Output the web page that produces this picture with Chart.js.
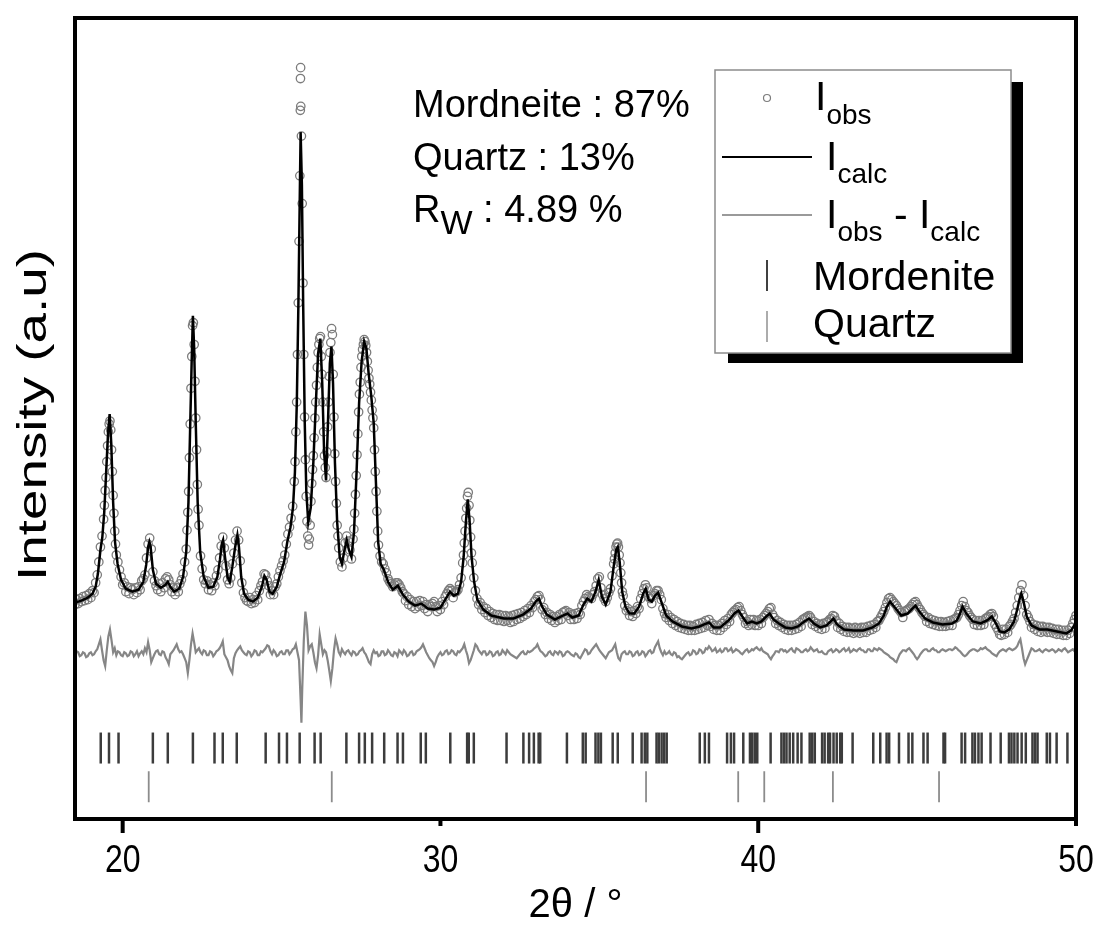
<!DOCTYPE html>
<html>
<head>
<meta charset="utf-8">
<script src="https://cdn.jsdelivr.net/npm/chart.js@4.4.1/dist/chart.umd.min.js"></script>
<style>
  body { margin: 0; background: #fff; }
  #wrap { width: 1099px; height: 940px; }
</style>
</head>
<body>
<div id="wrap"><canvas id="xrd" width="1099" height="940"></canvas></div>
<script>
// 2theta range and tick labels
const xMin = 18.5;
const xMax = 50;
const xTickValues = [20, 30, 40, 50];
const xLongTicks = [20, 40];

// calculated pattern (2theta, intensity)
const calcPoints = [
  [18.50,218],[18.70,220],[18.90,223],[19.05,227],[19.15,234],[19.22,247],[19.30,271],[19.36,284],[19.42,309],[19.48,349],
  [19.54,389],[19.59,408],[19.64,379],[19.70,319],[19.76,279],[19.84,257],[19.95,241],[20.10,232],[20.30,229],[20.50,231],
  [20.65,239],[20.74,256],[20.80,274],[20.84,279],[20.88,274],[20.95,251],[21.05,237],[21.20,233],[21.35,236],[21.42,239],
  [21.50,234],[21.62,229],[21.78,232],[21.90,244],[22.00,269],[22.07,319],[22.12,389],[22.17,459],[22.21,507],[22.25,474],
  [22.30,399],[22.36,319],[22.44,269],[22.55,244],[22.70,233],[22.85,234],[22.98,244],[23.06,261],[23.12,277],[23.16,281],
  [23.22,264],[23.30,244],[23.37,239],[23.45,254],[23.54,274],[23.61,286],[23.66,274],[23.73,244],[23.82,227],[23.95,221],
  [24.10,219],[24.25,223],[24.38,234],[24.46,245],[24.53,241],[24.62,229],[24.72,227],[24.85,234],[24.95,246],[25.08,259],
  [25.18,279],[25.28,294],[25.36,314],[25.42,349],[25.48,419],[25.53,519],[25.57,619],[25.60,692],[25.64,639],[25.68,519],
  [25.73,399],[25.78,329],[25.84,299],[25.92,314],[26.00,359],[26.08,419],[26.15,469],[26.22,484],[26.28,439],[26.34,369],
  [26.40,341],[26.46,399],[26.52,459],[26.57,476],[26.62,439],[26.68,359],[26.75,299],[26.83,264],[26.90,257],[26.98,271],
  [27.05,281],[27.12,271],[27.20,264],[27.28,289],[27.36,349],[27.44,419],[27.52,461],[27.60,481],[27.67,474],[27.74,449],
  [27.82,427],[27.90,399],[27.97,339],[28.04,279],[28.12,257],[28.22,251],[28.35,239],[28.50,231],[28.66,235],[28.80,227],
  [29.00,219],[29.20,215],[29.40,217],[29.60,212],[29.80,211],[30.00,213],[30.15,221],[30.30,229],[30.42,225],[30.55,227],
  [30.65,239],[30.73,264],[30.80,299],[30.86,322],[30.92,299],[30.98,264],[31.06,239],[31.16,221],[31.35,211],[31.60,205],
  [32.00,202],[32.30,202],[32.60,206],[32.85,212],[33.00,219],[33.10,222],[33.20,214],[33.35,206],[33.60,201],[33.85,205],
  [34.00,207],[34.15,203],[34.35,205],[34.50,216],[34.62,222],[34.75,219],[34.88,229],[34.98,241],[35.08,224],[35.20,216],
  [35.35,229],[35.45,254],[35.53,271],[35.58,274],[35.64,259],[35.72,229],[35.82,214],[35.95,207],[36.10,207],[36.25,214],
  [36.38,227],[36.46,232],[36.55,221],[36.65,219],[36.75,225],[36.85,228],[36.95,219],[37.10,205],[37.30,199],[37.60,194],
  [37.90,192],[38.15,194],[38.30,196],[38.45,198],[38.60,193],[38.80,193],[38.95,197],[39.10,201],[39.25,207],[39.38,210],
  [39.50,204],[39.65,197],[39.80,199],[39.95,197],[40.10,199],[40.25,204],[40.36,207],[40.48,201],[40.65,197],[40.85,193],
  [41.05,192],[41.25,194],[41.45,199],[41.60,202],[41.75,197],[41.95,193],[42.15,195],[42.28,199],[42.37,202],[42.48,196],
  [42.70,191],[43.00,190],[43.30,190],[43.60,193],[43.80,197],[43.95,205],[44.05,214],[44.15,219],[44.30,213],[44.50,205],
  [44.70,207],[44.85,212],[44.95,215],[45.07,209],[45.25,202],[45.50,198],[45.80,196],[46.10,197],[46.25,200],[46.35,207],
  [46.43,214],[46.55,207],[46.75,199],[47.00,197],[47.20,200],[47.35,204],[47.48,197],[47.60,189],[47.75,188],[47.90,191],
  [48.05,199],[48.15,211],[48.22,221],[48.28,227],[48.35,219],[48.45,204],[48.60,195],[48.85,191],[49.10,191],[49.40,189],
  [49.70,187],[49.85,190],[50.00,198]
];

// observed pattern (2theta, intensity)
const obsPoints = [
  [18.50,216],[18.55,221],[18.60,217],[18.65,222],[18.70,219],[18.75,224],[18.80,220],[18.85,225],[18.90,221],[18.95,227],
  [19.00,223],[19.05,230],[19.10,228],[19.15,238],[19.20,246],[19.25,259],[19.30,274],[19.35,285],[19.40,302],
  [19.425,316],[19.45,331],[19.475,344],[19.50,360],[19.525,376],[19.55,390],[19.575,398],[19.60,401],[19.625,392],[19.65,372],
  [19.675,350],[19.70,326],[19.725,308],[19.75,290],[19.775,277],[19.80,266],
  [19.85,259],[19.90,251],[19.95,244],[20.00,236],[20.05,238],[20.10,229],[20.15,234],[20.20,227],[20.25,233],[20.30,231],
  [20.35,226],[20.40,233],[20.45,228],[20.50,234],[20.55,231],[20.60,240],[20.65,242],[20.70,246],[20.75,263],[20.80,277],
  [20.85,283],[20.90,272],[20.95,249],[21.00,240],[21.05,235],[21.10,231],[21.15,237],[21.20,229],[21.25,238],[21.30,233],
  [21.35,242],[21.40,244],[21.45,241],[21.50,236],[21.55,229],[21.60,233],[21.65,226],[21.70,233],[21.75,229],[21.80,237],
  [21.85,241],[21.90,247],[21.95,259],[22.00,272],
  [22.025,291],[22.05,309],[22.075,330],[22.10,364],[22.125,398],[22.15,434],[22.175,466],[22.20,497],[22.225,500],[22.25,478],
  [22.275,441],[22.30,404],[22.325,372],[22.35,337],[22.375,312],[22.40,296],
  [22.45,265],[22.50,252],[22.55,241],[22.60,237],[22.65,240],[22.70,231],[22.75,236],[22.80,230],[22.85,238],[22.90,235],
  [22.95,245],[23.00,251],[23.05,263],[23.10,275],[23.15,284],[23.20,273],[23.25,255],[23.30,241],[23.35,237],[23.40,243],
  [23.45,257],[23.50,268],[23.55,281],[23.60,290],[23.65,281],[23.70,260],[23.75,238],[23.80,228],[23.85,223],[23.90,220],
  [23.95,219],[24.00,223],[24.05,217],[24.10,221],[24.15,218],[24.20,225],[24.25,221],[24.30,230],[24.35,235],[24.40,239],
  [24.45,247],[24.50,246],[24.55,240],[24.60,235],[24.65,226],[24.70,230],[24.75,226],[24.80,234],[24.85,237],[24.90,244],
  [24.95,250],[25.00,255],[25.05,260],[25.10,266],[25.15,277],[25.20,287],[25.25,294],[25.30,303],[25.35,315],[25.40,340],
  [25.425,360],[25.45,390],[25.475,420],[25.50,468],[25.525,520],[25.55,582],[25.575,648],[25.59,714],[25.595,746],[25.60,757],
  [25.605,718],[25.625,688],[25.65,620],[25.675,540],[25.70,468],[25.725,405],[25.75,362],[25.775,325],[25.80,300],[25.825,285],
  [25.85,276],[25.875,282],[25.90,296],[25.925,320],[25.95,338],[25.975,352],[26.00,366],[26.025,384],[26.05,404],[26.075,420],
  [26.10,437],[26.125,455],[26.15,470],[26.175,478],[26.20,484],[26.225,486],[26.25,466],[26.275,448],[26.30,420],[26.325,390],
  [26.35,366],[26.375,354],[26.40,344],[26.425,370],[26.45,395],[26.475,420],[26.50,446],[26.525,470],[26.55,480],[26.575,494],
  [26.60,488],[26.625,448],[26.65,405],[26.675,368],[26.70,340],[26.725,318],[26.75,296],[26.775,285],[26.80,273],
  [26.85,259],[26.90,254],[26.95,263],[27.00,278],[27.05,285],[27.10,280],[27.15,271],[27.20,262],[27.25,282],
  [27.275,292],[27.30,308],[27.325,327],[27.35,346],[27.375,367],[27.40,388],[27.425,410],[27.45,428],[27.475,440],[27.50,455],
  [27.525,466],[27.55,473],[27.575,478],[27.60,483],[27.625,481],[27.65,477],[27.675,470],[27.70,461],[27.725,452],[27.75,444],
  [27.775,438],[27.80,430],[27.825,422],[27.85,412],[27.875,404],[27.90,394],[27.925,372],[27.95,350],[27.975,330],[28.00,310],
  [28.025,290],[28.05,276],
  [28.10,265],[28.15,259],[28.20,257],[28.25,252],[28.30,248],[28.35,242],[28.40,239],[28.45,237],[28.50,234],[28.55,236],
  [28.60,238],[28.65,238],[28.70,236],[28.75,233],[28.80,229],[28.85,227],[28.90,220],[28.95,224],[29.00,216],[29.05,221],
  [29.10,214],[29.15,219],[29.20,212],[29.25,219],[29.30,214],[29.35,220],[29.40,215],[29.45,219],[29.50,212],[29.55,216],
  [29.60,209],[29.65,216],[29.70,214],[29.75,217],[29.80,219],[29.85,214],[29.90,209],[29.95,215],[30.00,211],[30.05,219],
  [30.10,216],[30.15,224],[30.20,227],[30.25,230],[30.30,232],[30.35,230],[30.40,223],[30.45,228],[30.50,229],[30.55,231],
  [30.60,236],[30.65,243],[30.70,258],
  [30.725,266],[30.75,278],[30.775,290],[30.80,303],[30.825,313],[30.85,325],[30.875,329],[30.90,316],[30.925,301],[30.95,284],
  [30.975,268],[31.00,258],
  [31.05,243],[31.10,230],[31.15,222],[31.20,216],[31.25,218],[31.30,211],[31.35,214],[31.40,208],[31.45,212],[31.50,205],
  [31.55,209],[31.60,203],[31.65,207],[31.70,201],[31.75,206],[31.80,200],[31.85,206],[31.90,200],[31.95,205],[32.00,199],
  [32.05,205],[32.10,200],[32.15,204],[32.20,198],[32.25,205],[32.30,199],[32.35,206],[32.40,201],[32.45,207],[32.50,202],
  [32.55,208],[32.60,204],[32.65,210],[32.70,206],[32.75,212],[32.80,208],[32.85,215],[32.90,213],[32.95,219],[33.00,221],
  [33.05,224],[33.10,225],[33.15,221],[33.20,211],[33.25,213],[33.30,206],[33.35,208],[33.40,202],[33.45,206],[33.50,200],
  [33.55,204],[33.60,198],[33.65,204],[33.70,200],[33.75,206],[33.80,201],[33.85,208],[33.90,209],[33.95,210],[34.00,205],
  [34.05,208],[34.10,201],[34.15,206],[34.20,201],[34.25,207],[34.30,202],[34.35,208],[34.40,206],[34.45,215],[34.50,219],
  [34.55,222],[34.60,226],[34.65,224],[34.70,223],[34.75,222],[34.80,226],[34.85,229],[34.90,235],[34.95,242],[35.00,244],
  [35.05,233],[35.10,226],[35.15,222],[35.20,219],[35.25,223],[35.30,228],[35.35,232],[35.40,245],[35.45,257],
  [35.475,262],[35.50,268],[35.525,274],[35.55,277],[35.575,278],[35.60,274],[35.625,266],[35.65,258],[35.675,248],[35.70,238],
  [35.725,229],
  [35.75,225],[35.80,215],[35.85,210],[35.90,212],[35.95,205],[36.00,209],[36.05,204],[36.10,210],[36.15,207],[36.20,214],
  [36.25,212],[36.30,222],[36.35,227],[36.40,232],[36.45,236],[36.50,233],[36.55,224],[36.60,222],[36.65,217],[36.70,225],
  [36.75,227],[36.80,230],[36.85,230],[36.90,226],[36.95,221],[37.00,212],[37.05,207],[37.10,203],[37.15,206],[37.20,200],
  [37.25,203],[37.30,197],[37.35,201],[37.40,195],[37.45,199],[37.50,193],[37.55,197],[37.60,192],[37.65,196],[37.70,191],
  [37.75,195],[37.80,190],[37.85,195],[37.90,190],[37.95,194],[38.00,190],[38.05,196],[38.10,191],[38.15,197],[38.20,192],
  [38.25,198],[38.30,193],[38.35,200],[38.40,195],[38.45,201],[38.50,194],[38.55,197],[38.60,191],[38.65,195],[38.70,190],
  [38.75,195],[38.80,190],[38.85,197],[38.90,193],[38.95,200],[39.00,196],[39.05,202],[39.10,199],[39.15,206],[39.20,208],
  [39.25,210],[39.30,211],[39.35,213],[39.40,214],[39.45,210],[39.50,206],[39.55,203],[39.60,197],[39.65,199],[39.70,195],
  [39.75,201],[39.80,196],[39.85,201],[39.90,195],[39.95,200],[40.00,195],[40.05,201],[40.10,197],[40.15,203],[40.20,205],
  [40.25,207],[40.30,209],[40.35,212],[40.40,213],[40.45,206],[40.50,203],[40.55,197],[40.60,200],[40.65,195],[40.70,198],
  [40.75,193],[40.80,196],[40.85,191],[40.90,195],[40.95,190],[41.00,195],[41.05,190],[41.10,195],[41.15,191],[41.20,196],
  [41.25,192],[41.30,198],[41.35,194],[41.40,201],[41.45,202],[41.50,203],[41.55,204],[41.60,205],[41.65,203],[41.70,196],
  [41.75,199],[41.80,194],[41.85,197],[41.90,192],[41.95,196],[42.00,191],[42.05,197],[42.10,192],[42.15,198],[42.20,199],
  [42.25,201],[42.30,202],[42.35,205],[42.40,204],[42.45,200],[42.50,193],[42.55,197],[42.60,191],[42.65,194],[42.70,189],
  [42.75,193],[42.80,188],[42.85,193],[42.90,188],[42.95,192],[43.00,187],[43.05,193],[43.10,188],[43.15,192],[43.20,187],
  [43.25,193],[43.30,188],[43.35,193],[43.40,188],[43.45,194],[43.50,190],[43.55,195],[43.60,191],[43.65,196],[43.70,193],
  [43.75,199],[43.80,200],[43.85,203],[43.90,206],[43.95,209],[44.00,213],[44.05,218],[44.10,222],[44.15,223],[44.20,221],
  [44.25,219],[44.30,217],[44.35,215],[44.40,212],[44.45,210],[44.50,208],[44.55,203],[44.60,209],[44.65,210],[44.70,211],
  [44.75,212],[44.80,214],[44.85,216],[44.90,218],[44.95,219],[45.00,216],[45.05,213],[45.10,211],[45.15,208],[45.20,206],
  [45.25,204],[45.30,199],[45.35,203],[45.40,197],[45.45,201],[45.50,196],[45.55,200],[45.60,195],[45.65,199],[45.70,194],
  [45.75,199],[45.80,194],[45.85,198],[45.90,194],[45.95,199],[46.00,195],[46.05,200],[46.10,195],[46.15,201],[46.20,202],
  [46.25,203],[46.30,206],[46.35,210],[46.40,215],[46.45,219],[46.50,214],[46.55,210],[46.60,208],[46.65,205],[46.70,203],
  [46.75,201],[46.80,196],[46.85,200],[46.90,195],[46.95,200],[47.00,195],[47.05,200],[47.10,196],[47.15,202],[47.20,203],
  [47.25,204],[47.30,206],[47.35,207],[47.40,204],[47.45,196],[47.50,193],[47.55,190],[47.60,186],[47.65,185],[47.70,191],
  [47.75,186],[47.80,191],[47.85,188],[47.90,194],[47.95,196],[48.00,199],[48.05,202],[48.10,208],[48.15,215],[48.20,223],
  [48.25,230],[48.30,236],[48.35,225],[48.40,215],[48.45,206],[48.50,203],[48.55,199],[48.60,193],[48.65,196],[48.70,191],
  [48.75,195],[48.80,189],[48.85,194],[48.90,188],[48.95,194],[49.00,189],[49.05,193],[49.10,188],[49.15,193],[49.20,188],
  [49.25,192],[49.30,187],[49.35,191],[49.40,186],[49.45,191],[49.50,186],[49.55,190],[49.60,185],[49.65,190],[49.70,185],
  [49.75,190],[49.80,187],[49.85,193],[49.90,197],[49.95,201],[50.00,205]
];

// difference curve Iobs - Icalc (offset below the pattern)
const diffPoints = [
  [18.5,166],[18.55,169],[18.6,168],[18.65,164],[18.7,165],[18.75,168],[18.8,167],[18.85,163],[18.9,164],[18.95,167],
  [19.0,168],[19.05,165],[19.1,166],[19.15,169],[19.2,171],[19.25,176],[19.3,181],[19.35,170],[19.4,160],[19.45,154],
  [19.5,170],[19.55,184],[19.6,191],[19.65,180],[19.7,168],[19.75,172],[19.8,165],[19.85,169],[19.9,168],[19.95,165],
  [20.0,164],[20.05,168],[20.1,167],[20.15,164],[20.2,165],[20.25,169],[20.3,168],[20.35,164],[20.4,166],[20.45,169],
  [20.5,164],[20.55,167],[20.6,169],[20.65,166],[20.7,172],[20.75,168],[20.8,178],[20.85,170],[20.9,158],[20.95,162],
  [21.0,166],[21.05,169],[21.1,170],[21.15,166],[21.2,165],[21.25,169],[21.3,168],[21.35,163],[21.4,160],[21.45,156],
  [21.5,166],[21.55,168],[21.6,170],[21.65,173],[21.7,176],[21.75,171],[21.8,168],[21.85,169],[21.9,166],[21.95,162],
  [22.0,158],[22.05,147],[22.1,160],[22.15,176],[22.2,187],[22.25,178],[22.3,168],[22.35,170],[22.4,172],[22.45,168],
  [22.5,166],[22.55,170],[22.6,169],[22.65,165],[22.7,165],[22.75,169],[22.8,168],[22.85,164],[22.9,166],[22.95,169],
  [23.0,170],[23.05,172],[23.1,175],[23.15,179],[23.2,166],[23.25,163],[23.3,160],[23.35,154],[23.4,150],[23.45,147],
  [23.5,162],[23.55,167],[23.6,170],[23.65,172],[23.7,174],[23.75,170],[23.8,168],[23.85,166],[23.9,165],[23.95,169],
  [24.0,168],[24.05,164],[24.1,166],[24.15,170],[24.2,169],[24.25,165],[24.3,165],[24.35,169],[24.4,168],[24.45,170],
  [24.5,172],[24.55,175],[24.6,174],[24.65,169],[24.7,166],[24.75,170],[24.8,168],[24.85,164],[24.9,165],[24.95,168],
  [25.0,169],[25.05,166],[25.1,166],[25.15,170],[25.2,170],[25.25,166],[25.3,168],[25.35,171],[25.4,172],[25.45,176],
  [25.5,168],[25.55,160],[25.6,120],[25.625,97],[25.65,130],[25.7,180],[25.75,209],[25.8,195],[25.85,170],[25.9,174],
  [25.95,176],[26.0,168],[26.05,158],[26.1,152],[26.15,165],[26.2,186],[26.25,176],[26.3,166],[26.35,170],[26.4,168],
  [26.45,160],[26.5,150],[26.55,139],[26.6,152],[26.65,170],[26.7,182],[26.75,176],[26.8,168],[26.85,165],[26.9,171],
  [26.95,168],[27.0,166],[27.05,169],[27.1,170],[27.15,167],[27.2,165],[27.25,169],[27.3,168],[27.35,165],[27.4,166],
  [27.45,169],[27.5,170],[27.55,172],[27.6,168],[27.65,166],[27.7,162],[27.75,158],[27.8,156],[27.85,166],[27.9,170],
  [27.95,167],[28.0,168],[28.05,164],[28.1,165],[28.15,169],[28.2,169],[28.25,165],[28.3,166],[28.35,170],[28.4,168],
  [28.45,165],[28.5,164],[28.55,168],[28.6,167],[28.65,164],[28.7,170],[28.75,168],[28.8,166],[28.85,170],[28.9,168],
  [28.95,164],[29.0,165],[29.05,168],[29.1,169],[29.15,165],[29.2,166],[29.25,169],[29.3,170],[29.35,171],[29.4,173],
  [29.45,176],[29.5,172],[29.55,168],[29.6,165],[29.65,162],[29.7,160],[29.75,158],[29.8,154],[29.85,158],[29.9,163],
  [29.95,166],[30.0,168],[30.05,165],[30.1,166],[30.15,169],[30.2,170],[30.25,166],[30.3,167],[30.35,170],[30.4,169],
  [30.45,166],[30.5,165],[30.55,169],[30.6,168],[30.65,170],[30.7,172],[30.75,176],[30.8,170],[30.85,165],[30.9,157],
  [30.95,160],[31.0,165],[31.05,170],[31.1,176],[31.15,174],[31.2,170],[31.25,168],[31.3,166],[31.35,169],[31.4,169],
  [31.45,165],[31.5,166],[31.55,169],[31.6,168],[31.65,164],[31.7,165],[31.75,168],[31.8,169],[31.85,165],[31.9,166],
  [31.95,170],[32.0,168],[32.05,166],[32.1,170],[32.15,168],[32.2,166],[32.25,165],[32.3,164],[32.35,163],[32.4,162],
  [32.45,164],[32.5,166],[32.55,168],[32.6,169],[32.65,166],[32.7,166],[32.75,169],[32.8,168],[32.85,169],[32.9,170],
  [32.95,172],[33.0,173],[33.05,176],[33.1,172],[33.15,169],[33.2,168],[33.25,166],[33.3,164],[33.35,165],[33.4,168],
  [33.45,169],[33.5,166],[33.55,165],[33.6,169],[33.65,168],[33.7,166],[33.75,169],[33.8,168],[33.85,164],[33.9,165],
  [33.95,168],[34.0,169],[34.05,168],[34.1,166],[34.15,165],[34.2,164],[34.25,167],[34.3,166],[34.35,163],[34.4,162],
  [34.45,165],[34.5,168],[34.55,171],[34.6,170],[34.65,166],[34.7,167],[34.75,170],[34.8,172],[34.85,174],[34.9,176],
  [34.95,173],[35.0,170],[35.05,168],[35.1,166],[35.15,164],[35.2,162],[35.25,165],[35.3,168],[35.35,169],[35.4,170],
  [35.45,173],[35.5,176],[35.55,168],[35.6,162],[35.65,160],[35.7,166],[35.75,168],[35.8,169],[35.85,166],[35.9,166],
  [35.95,169],[36.0,168],[36.05,164],[36.1,165],[36.15,168],[36.2,169],[36.25,165],[36.3,166],[36.35,169],[36.4,168],
  [36.45,164],[36.5,166],[36.55,169],[36.6,170],[36.65,167],[36.7,168],[36.75,173],[36.8,176],[36.85,179],[36.9,172],
  [36.95,168],[37.0,165],[37.05,169],[37.1,166],[37.15,167],[37.2,169],[37.25,166],[37.3,165],[37.35,168],[37.4,167],
  [37.45,163],[37.5,164],[37.55,162],[37.6,161],[37.65,163],[37.7,165],[37.75,167],[37.8,168],[37.85,165],[37.9,166],
  [37.95,170],[38.0,169],[38.05,166],[38.1,167],[38.15,171],[38.2,170],[38.25,167],[38.3,168],[38.35,172],[38.4,171],
  [38.45,174],[38.5,172],[38.55,169],[38.6,170],[38.65,172],[38.7,168],[38.75,169],[38.8,171],[38.85,168],[38.9,169],
  [38.95,172],[39.0,172],[39.05,169],[39.1,170],[39.15,172],[39.2,168],[39.25,169],[39.3,171],[39.35,170],[39.4,169],
  [39.45,167],[39.5,166],[39.55,168],[39.6,170],[39.65,171],[39.7,168],[39.75,169],[39.8,171],[39.85,170],[39.9,172],
  [39.95,173],[40.0,171],[40.05,170],[40.1,172],[40.15,169],[40.2,168],[40.25,167],[40.3,166],[40.35,163],[40.4,161],
  [40.45,164],[40.5,166],[40.55,169],[40.6,169],[40.65,168],[40.7,171],[40.75,171],[40.8,169],[40.85,170],[40.9,168],
  [40.95,169],[41.0,171],[41.05,172],[41.1,169],[41.15,168],[41.2,172],[41.25,171],[41.3,170],[41.35,168],[41.4,168],
  [41.45,170],[41.5,171],[41.55,169],[41.6,170],[41.65,173],[41.7,171],[41.75,169],[41.8,170],[41.85,171],[41.9,168],
  [41.95,168],[42.0,169],[42.05,167],[42.1,166],[42.15,166],[42.2,169],[42.25,170],[42.3,171],[42.35,168],[42.4,169],
  [42.45,171],[42.5,170],[42.55,168],[42.6,169],[42.65,171],[42.7,172],[42.75,169],[42.8,170],[42.85,172],[42.9,168],
  [42.95,169],[43.0,171],[43.05,170],[43.1,169],[43.15,171],[43.2,172],[43.25,170],[43.3,170],[43.35,168],[43.4,168],
  [43.45,171],[43.5,171],[43.55,169],[43.6,169],[43.65,172],[43.7,171],[43.75,170],[43.8,172],[43.85,171],[43.9,170],
  [43.95,168],[44.0,167],[44.05,166],[44.1,165],[44.15,163],[44.2,162],[44.25,161],[44.3,159],[44.35,158],[44.4,162],
  [44.45,166],[44.5,168],[44.55,170],[44.6,170],[44.65,169],[44.7,171],[44.75,172],[44.8,170],[44.85,168],[44.9,166],
  [44.95,163],[45.0,161],[45.05,163],[45.1,166],[45.15,168],[45.2,170],[45.25,171],[45.3,171],[45.35,169],[45.4,169],
  [45.45,171],[45.5,172],[45.55,170],[45.6,170],[45.65,168],[45.7,168],[45.75,170],[45.8,171],[45.85,170],[45.9,169],
  [45.95,170],[46.0,171],[46.05,171],[46.1,170],[46.15,171],[46.2,173],[46.25,172],[46.3,170],[46.35,169],[46.4,167],
  [46.45,165],[46.5,164],[46.55,165],[46.6,167],[46.65,169],[46.7,170],[46.75,171],[46.8,171],[46.85,170],[46.9,169],
  [46.95,170],[47.0,172],[47.05,171],[47.1,172],[47.15,173],[47.2,171],[47.25,170],[47.3,169],[47.35,167],[47.4,166],
  [47.45,165],[47.5,164],[47.55,167],[47.6,169],[47.65,170],[47.7,171],[47.75,170],[47.8,169],[47.85,171],[47.9,172],
  [47.95,171],[48.0,170],[48.05,171],[48.1,172],[48.15,174],[48.2,178],[48.25,181],[48.3,172],[48.35,162],[48.4,156],
  [48.45,160],[48.5,164],[48.55,168],[48.6,172],[48.65,171],[48.7,169],[48.75,169],[48.8,170],[48.85,171],[48.9,169],
  [48.95,168],[49.0,170],[49.05,171],[49.1,170],[49.15,169],[49.2,170],[49.25,171],[49.3,170],[49.35,168],[49.4,169],
  [49.45,171],[49.5,170],[49.55,169],[49.6,171],[49.65,172],[49.7,170],[49.75,168],[49.8,169],[49.85,170],[49.9,171],
  [49.95,169],[50.0,169]
];

// Bragg reflection positions
const mordeniteTicks = [
  19.31,19.57,19.87,20.95,21.42,22.21,22.89,23.15,23.59,24.50,24.92,25.17,25.57,26.04,26.23,27.04,27.44,27.62,27.85,28.23,
  28.65,28.82,29.38,29.54,30.31,30.84,30.89,31.05,32.08,32.61,32.79,32.94,33.09,33.14,33.98,34.48,34.57,34.88,34.97,35.05,
  35.42,35.58,36.05,36.33,36.43,36.51,36.80,36.87,36.96,37.04,37.12,38.16,38.32,38.45,39.02,39.14,39.24,39.53,39.74,39.81,
  39.89,39.97,40.39,40.73,40.81,40.89,40.99,41.10,41.24,41.36,41.62,41.70,41.78,42.01,42.09,42.20,42.26,42.37,42.47,42.58,
  42.63,42.97,43.62,43.84,44.04,44.12,44.43,44.73,44.85,45.20,45.33,45.83,45.88,46.40,46.51,46.74,46.82,46.93,47.03,47.31,
  47.63,47.89,47.97,48.06,48.16,48.29,48.42,48.63,48.71,48.79,49.08,49.18,49.39,49.73
];
const quartzTicks = [20.82, 26.58, 36.47, 39.37, 40.19, 42.35, 45.69];
const mordeniteLevel = 71.5;
const quartzLevel = 32.5;

const SANS = "'Liberation Sans', Arial, sans-serif";
const OBS_GREY = '#7c7c7c';

const toXY = arr => arr.map(p => ({x: p[0], y: p[1]}));

// frame, axis ticks and labels, titles, annotation and legend box
const decorations = {
  id: 'decorations',
  afterDraw(chart) {
    const {ctx, chartArea: a} = chart;
    const x = chart.scales.x;
    ctx.save();
    ctx.strokeStyle = '#000';
    ctx.lineWidth = 4;
    ctx.strokeRect(a.left, a.top, a.right - a.left, a.bottom - a.top);

    ctx.fillStyle = '#000';
    ctx.textAlign = 'center';
    ctx.textBaseline = 'middle';
    xTickValues.forEach(v => {
      const px = x.getPixelForValue(v);
      const len = xLongTicks.includes(v) ? 14 : 7;
      ctx.beginPath();
      ctx.moveTo(px, a.bottom);
      ctx.lineTo(px, a.bottom + len);
      ctx.stroke();
      ctx.save();
      ctx.translate(px, 861);
      ctx.scale(0.82, 1);
      ctx.font = '39px ' + SANS;
      ctx.fillText(String(v), 0, 0);
      ctx.restore();
    });

    // x axis title
    ctx.font = '40px ' + SANS;
    ctx.fillText('2θ / °', (a.left + a.right) / 2, 906);

    // y axis title
    ctx.save();
    ctx.translate(35, 415);
    ctx.rotate(-Math.PI / 2);
    ctx.scale(1.37, 1);
    ctx.font = '40px ' + SANS;
    ctx.fillText('Intensity (a.u)', 0, 0);
    ctx.restore();

    // refinement results
    ctx.textAlign = 'left';
    ctx.textBaseline = 'alphabetic';
    ctx.font = '38px ' + SANS;
    ctx.fillText('Mordneite : 87%', 413, 117);
    ctx.fillText('Quartz : 13%', 413, 170);
    ctx.fillText('R', 413, 222);
    let cx = 413 + ctx.measureText('R').width;
    ctx.font = '34px ' + SANS;
    ctx.fillText('W', cx, 234);
    cx += ctx.measureText('W').width;
    ctx.font = '38px ' + SANS;
    ctx.fillText(' : 4.89 %', cx, 222);

    // legend box with shadow
    ctx.fillStyle = '#000';
    ctx.fillRect(728, 82, 295, 281);
    ctx.fillStyle = '#fff';
    ctx.fillRect(715, 70, 296, 283);
    ctx.strokeStyle = '#8c8c8c';
    ctx.lineWidth = 1.5;
    ctx.strokeRect(715, 70, 296, 283);

    const sub = (parts, x0, yMain, ySub) => {
      let px = x0;
      parts.forEach(([t, isSub]) => {
        ctx.font = (isSub ? '28px ' : '41px ') + SANS;
        ctx.fillStyle = '#000';
        ctx.fillText(t, px, isSub ? ySub : yMain);
        px += ctx.measureText(t).width;
      });
    };

    ctx.strokeStyle = OBS_GREY;
    ctx.lineWidth = 1.2;
    ctx.beginPath();
    ctx.arc(767, 98, 3.5, 0, Math.PI * 2);
    ctx.stroke();
    sub([['I', false], ['obs', true]], 815, 110, 124);

    ctx.strokeStyle = '#000';
    ctx.lineWidth = 2;
    ctx.beginPath();
    ctx.moveTo(722, 157);
    ctx.lineTo(812, 157);
    ctx.stroke();
    sub([['I', false], ['calc', true]], 826, 170, 183);

    ctx.strokeStyle = '#9a9a9a';
    ctx.beginPath();
    ctx.moveTo(722, 215);
    ctx.lineTo(812, 215);
    ctx.stroke();
    sub([['I', false], ['obs', true], [' - I', false], ['calc', true]], 826, 228, 241);

    ctx.strokeStyle = '#404040';
    ctx.beginPath();
    ctx.moveTo(767, 260);
    ctx.lineTo(767, 291);
    ctx.stroke();
    sub([['Mordenite', false]], 813, 290, 290);

    ctx.strokeStyle = '#909090';
    ctx.lineWidth = 1.5;
    ctx.beginPath();
    ctx.moveTo(767, 311);
    ctx.lineTo(767, 342);
    ctx.stroke();
    sub([['Quartz', false]], 813, 337, 337);

    ctx.restore();
  }
};

new Chart(document.getElementById('xrd'), {
  type: 'scatter',
  data: {
    datasets: [
      {
        label: 'Icalc',
        data: toXY(calcPoints),
        showLine: true,
        borderColor: '#000',
        borderWidth: 2.5,
        pointRadius: 0,
        tension: 0,
        order: 0
      },
      {
        label: 'Iobs',
        data: toXY(obsPoints),
        pointStyle: 'circle',
        pointRadius: 4.2,
        borderWidth: 1.3,
        borderColor: OBS_GREY,
        backgroundColor: 'rgba(0,0,0,0)',
        order: 1
      },
      {
        label: 'Iobs - Icalc',
        data: toXY(diffPoints),
        showLine: true,
        borderColor: '#868686',
        borderWidth: 2.2,
        pointRadius: 0,
        tension: 0,
        order: 2
      },
      {
        label: 'Mordenite',
        data: mordeniteTicks.map(t => ({x: t, y: mordeniteLevel})),
        pointStyle: 'line',
        rotation: 90,
        pointRadius: 15.5,
        borderWidth: 2.5,
        borderColor: '#3c3c3c',
        order: 3
      },
      {
        label: 'Quartz',
        data: quartzTicks.map(t => ({x: t, y: quartzLevel})),
        pointStyle: 'line',
        rotation: 90,
        pointRadius: 15.5,
        borderWidth: 1.8,
        borderColor: '#8c8c8c',
        order: 3
      }
    ]
  },
  options: {
    responsive: false,
    animation: false,
    layout: { padding: { left: 75, right: 23, top: 7, bottom: 121 } },
    plugins: { legend: { display: false }, tooltip: { enabled: false } },
    scales: {
      x: {
        type: 'linear',
        min: xMin,
        max: xMax,
        afterBuildTicks: s => { s.ticks = xTickValues.map(v => ({value: v})); },
        grid: { display: false, drawTicks: false },
        border: { display: false },
        ticks: { display: false },
        title: { display: false }
      },
      y: {
        display: false,
        min: 0,
        max: 807
      }
    }
  },
  plugins: [decorations]
});
</script>
</body>
</html>
